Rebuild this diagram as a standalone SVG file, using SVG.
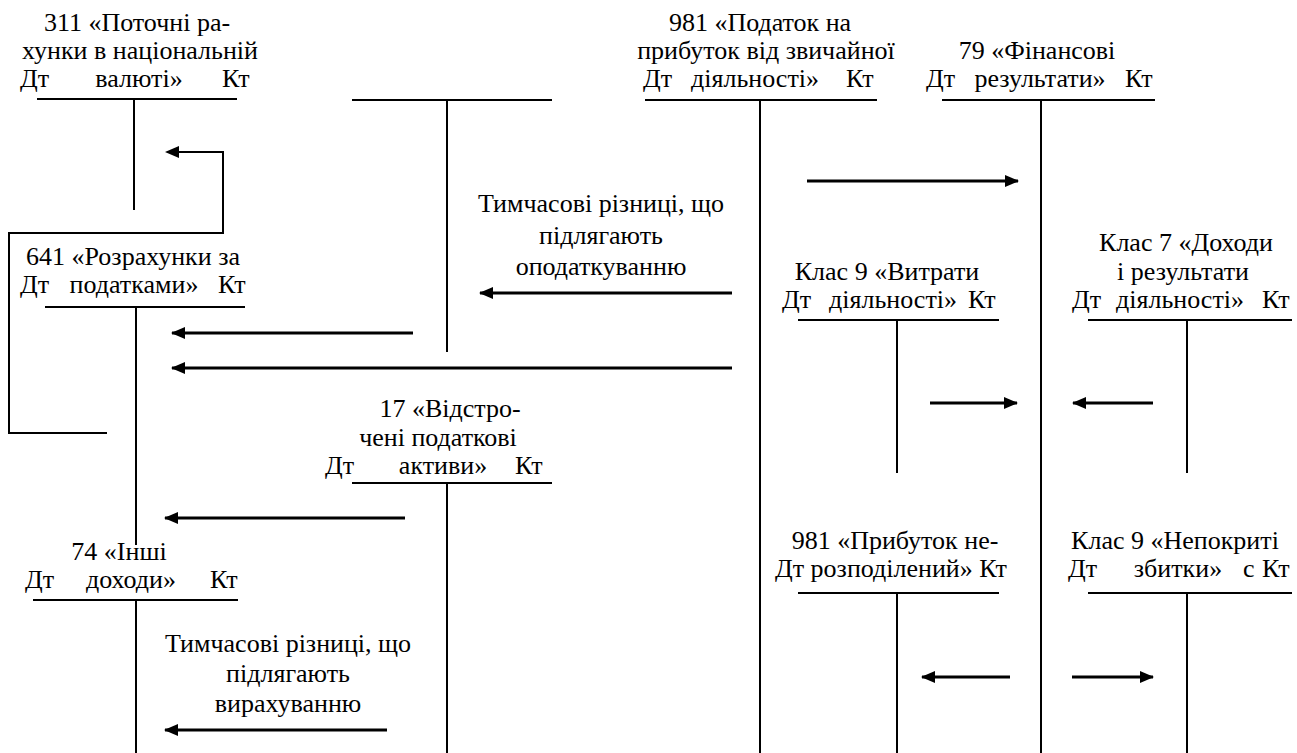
<svg xmlns="http://www.w3.org/2000/svg" width="1297" height="753" viewBox="0 0 1297 753">
<defs>
<marker id="ah" markerUnits="userSpaceOnUse" markerWidth="14" markerHeight="12" refX="13" refY="6" orient="auto">
<path d="M0,0 L14,6 L0,12 Z" fill="#000"/>
</marker>
</defs>
<rect width="1297" height="753" fill="#fff"/>

<g id="acc311">
<text font-family="Liberation Serif" font-size="26" text-anchor="middle" x="137" y="31">311 «Поточні ра-</text>
<text font-family="Liberation Serif" font-size="26" text-anchor="middle" x="140" y="59">хунки в національній</text>
<text font-family="Liberation Serif" font-size="26" x="20" y="87">Дт</text>
<text font-family="Liberation Serif" font-size="26" text-anchor="middle" x="139" y="87">валюті»</text>
<text font-family="Liberation Serif" font-size="26" x="222" y="87">Кт</text>
<path stroke="#000" stroke-width="2" fill="none" d="M37,99 H237 M134,99 V210"/>
</g>

<g id="accBlank">
<path stroke="#000" stroke-width="2" fill="none" d="M352,100 H552 M447,100 V352"/>
</g>

<g id="acc981tax">
<text font-family="Liberation Serif" font-size="26" text-anchor="middle" x="760" y="31">981 «Податок на</text>
<text font-family="Liberation Serif" font-size="26" text-anchor="middle" x="766" y="59">прибуток від звичайної</text>
<text font-family="Liberation Serif" font-size="26" x="643" y="87">Дт</text>
<text font-family="Liberation Serif" font-size="26" text-anchor="middle" x="755" y="87">діяльності»</text>
<text font-family="Liberation Serif" font-size="26" x="846" y="87">Кт</text>
<path stroke="#000" stroke-width="2" fill="none" d="M645,100 H877 M760,100 V753"/>
</g>

<g id="acc79">
<text font-family="Liberation Serif" font-size="26" text-anchor="middle" x="1037" y="59">79 «Фінансові</text>
<text font-family="Liberation Serif" font-size="26" x="926" y="87">Дт</text>
<text font-family="Liberation Serif" font-size="26" text-anchor="middle" x="1040" y="87">результати»</text>
<text font-family="Liberation Serif" font-size="26" x="1125" y="87">Кт</text>
<path stroke="#000" stroke-width="2" fill="none" d="M942,100 H1155 M1041,100 V753"/>
</g>

<g id="acc641">
<text font-family="Liberation Serif" font-size="26" text-anchor="middle" x="133" y="265">641 «Розрахунки за</text>
<text font-family="Liberation Serif" font-size="26" x="20" y="293">Дт</text>
<text font-family="Liberation Serif" font-size="26" text-anchor="middle" x="134" y="293">податками»</text>
<text font-family="Liberation Serif" font-size="26" x="218" y="293">Кт</text>
<path stroke="#000" stroke-width="2" fill="none" d="M45,307 H245 M136,307 V545"/>
</g>

<g id="labelTax">
<text font-family="Liberation Serif" font-size="26" text-anchor="middle" x="601" y="212">Тимчасові різниці, що</text>
<text font-family="Liberation Serif" font-size="26" text-anchor="middle" x="601" y="244">підлягають</text>
<text font-family="Liberation Serif" font-size="26" text-anchor="middle" x="601" y="275">оподаткуванню</text>
</g>

<g id="accClass9exp">
<text font-family="Liberation Serif" font-size="26" text-anchor="middle" x="887" y="280">Клас 9 «Витрати</text>
<text font-family="Liberation Serif" font-size="26" x="782" y="308">Дт</text>
<text font-family="Liberation Serif" font-size="26" text-anchor="middle" x="893" y="308">діяльності»</text>
<text font-family="Liberation Serif" font-size="26" x="968" y="308">Кт</text>
<path stroke="#000" stroke-width="2" fill="none" d="M798,320 H999 M897,320 V473"/>
</g>

<g id="accClass7">
<text font-family="Liberation Serif" font-size="26" text-anchor="middle" x="1186" y="251">Клас 7 «Доходи</text>
<text font-family="Liberation Serif" font-size="26" text-anchor="middle" x="1183" y="280">і результати</text>
<text font-family="Liberation Serif" font-size="26" x="1072" y="308">Дт</text>
<text font-family="Liberation Serif" font-size="26" text-anchor="middle" x="1180" y="308">діяльності»</text>
<text font-family="Liberation Serif" font-size="26" x="1262" y="308">Кт</text>
<path stroke="#000" stroke-width="2" fill="none" d="M1088,320 H1292 M1187,320 V473"/>
</g>

<g id="acc17">
<text font-family="Liberation Serif" font-size="26" text-anchor="middle" x="450" y="417">17 «Відстро-</text>
<text font-family="Liberation Serif" font-size="26" text-anchor="middle" x="438" y="446">чені податкові</text>
<text font-family="Liberation Serif" font-size="26" x="325" y="474">Дт</text>
<text font-family="Liberation Serif" font-size="26" text-anchor="middle" x="443" y="474">активи»</text>
<text font-family="Liberation Serif" font-size="26" x="515" y="474">Кт</text>
<path stroke="#000" stroke-width="2" fill="none" d="M352,483 H552 M447,483 V753"/>
</g>

<g id="acc74">
<text font-family="Liberation Serif" font-size="26" text-anchor="middle" x="119" y="560">74 «Інші</text>
<text font-family="Liberation Serif" font-size="26" x="25" y="588">Дт</text>
<text font-family="Liberation Serif" font-size="26" text-anchor="middle" x="131" y="588">доходи»</text>
<text font-family="Liberation Serif" font-size="26" x="210" y="588">Кт</text>
<path stroke="#000" stroke-width="2" fill="none" d="M33,600 H238 M136,600 V753"/>
</g>

<g id="labelDeduct">
<text font-family="Liberation Serif" font-size="26" text-anchor="middle" x="288" y="652">Тимчасові різниці, що</text>
<text font-family="Liberation Serif" font-size="26" text-anchor="middle" x="288" y="682">підлягають</text>
<text font-family="Liberation Serif" font-size="26" text-anchor="middle" x="288" y="712">вирахуванню</text>
</g>

<g id="acc981profit">
<text font-family="Liberation Serif" font-size="26" text-anchor="middle" x="895" y="549">981 «Прибуток не-</text>
<text font-family="Liberation Serif" font-size="26" text-anchor="middle" x="891" y="577">Дт розподілений» Кт</text>
<path stroke="#000" stroke-width="2" fill="none" d="M798,593 H999 M897,593 V753"/>
</g>

<g id="accClass9loss">
<text font-family="Liberation Serif" font-size="26" text-anchor="middle" x="1175" y="549">Клас 9 «Непокриті</text>
<text font-family="Liberation Serif" font-size="26" x="1068" y="577">Дт</text>
<text font-family="Liberation Serif" font-size="26" text-anchor="middle" x="1178" y="577">збитки»</text>
<text font-family="Liberation Serif" font-size="26" x="1243" y="577">с</text>
<text font-family="Liberation Serif" font-size="26" x="1262" y="577">Кт</text>
<path stroke="#000" stroke-width="2" fill="none" d="M1088,593 H1292 M1187,593 V753"/>
</g>

<g id="connectors" stroke="#000" fill="none">
<path stroke-width="2" d="M107,433 H9 V233 H223 V152 H178"/>
<path stroke="none" fill="#000" d="M165,152 L179,146 L179,158 Z"/>
<path stroke-width="3" marker-end="url(#ah)" d="M807,181 H1018"/>
<path stroke-width="3" marker-end="url(#ah)" d="M732,293 H480"/>
<path stroke-width="3" marker-end="url(#ah)" d="M413,333 H172"/>
<path stroke-width="3" marker-end="url(#ah)" d="M732,368 H172"/>
<path stroke-width="3" marker-end="url(#ah)" d="M930,403 H1017"/>
<path stroke-width="3" marker-end="url(#ah)" d="M1153,403 H1073"/>
<path stroke-width="3" marker-end="url(#ah)" d="M405,518 H165"/>
<path stroke-width="3" marker-end="url(#ah)" d="M387,730 H165"/>
<path stroke-width="3" marker-end="url(#ah)" d="M1010,677 H922"/>
<path stroke-width="3" marker-end="url(#ah)" d="M1072,677 H1153"/>
</g>
</svg>
